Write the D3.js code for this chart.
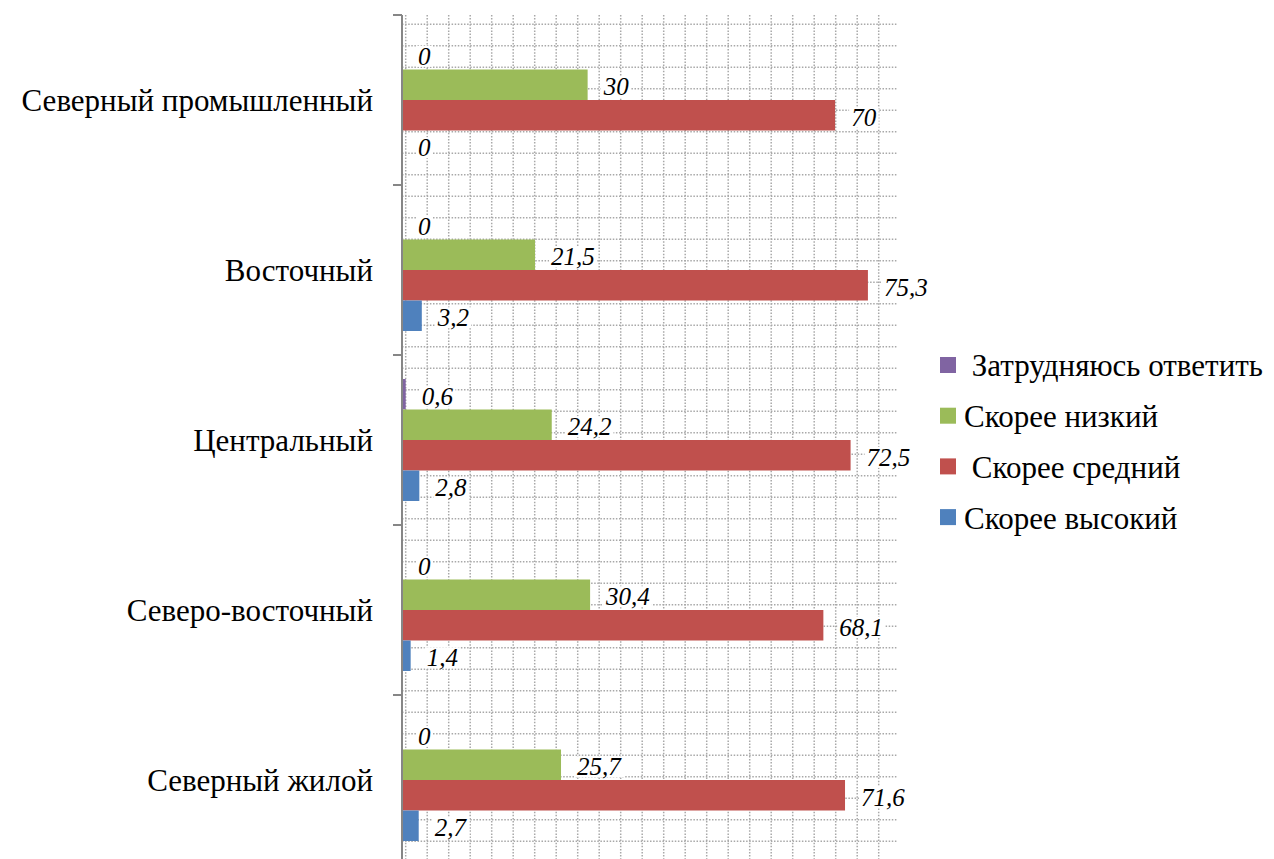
<!DOCTYPE html>
<html>
<head>
<meta charset="utf-8">
<script src="https://cdn.jsdelivr.net/npm/d3@7"></script>
<style>
  html, body { margin: 0; padding: 0; background: #fff; }
</style>
</head>
<body>
<div id="chart"></div>
<script>
(function () {

    var categories = ["Северный промышленный", "Восточный", "Центральный", "Северо-восточный", "Северный жилой"];

    var difficult = [0, 0, 0.6, 0, 0];
    var low       = [30, 21.5, 24.2, 30.4, 25.7];
    var medium    = [70, 75.3, 72.5, 68.1, 71.6];
    var high      = [0, 3.2, 2.8, 1.4, 2.7];

    var SERIES = [
        { key: "difficult", values: difficult, color: "#8064A2", label: " Затрудняюсь ответить" },
        { key: "low",       values: low,       color: "#9BBB59", label: "Скорее низкий" },
        { key: "medium",    values: medium,    color: "#C0504D", label: " Скорее средний" },
        { key: "high",      values: high,      color: "#4F81BD", label: "Скорее высокий" }
    ];

    var FONT = "'Liberation Serif', 'Times New Roman', serif";

    var W = 1274, H = 859;
    var plot = { left: 402, right: 897, top: 15, bottom: 865 };

    var svg = d3.select("#chart").append("svg")
        .attr("width", W).attr("height", H)
        .attr("font-family", FONT);

    /* scales */
    var x = d3.scaleLinear().domain([0, 80]).range([plot.left, plot.right]);
    var y0 = d3.scaleBand().domain(categories).range([plot.top, plot.bottom]);
    var y1 = d3.scaleBand().domain(SERIES.map(function (s) { return s.key; }))
        .range([24, y0.bandwidth() - 24]);

    /* dotted grid (pattern-like background) */
    var grid = svg.append("g").attr("class", "grid")
        .attr("stroke", "#a8a8a8")
        .attr("stroke-width", 1.5)
        .attr("stroke-dasharray", "1.5,1.6");

    grid.selectAll("line.v")
        .data(d3.range(405.7, plot.right, 21.5))
        .enter().append("line")
        .attr("class", "v")
        .attr("x1", function (d) { return d; }).attr("x2", function (d) { return d; })
        .attr("y1", plot.top).attr("y2", plot.bottom);

    grid.selectAll("line.h")
        .data(d3.range(24.3, plot.bottom, 21.5))
        .enter().append("line")
        .attr("class", "h")
        .attr("x1", plot.left).attr("x2", plot.right)
        .attr("y1", function (d) { return d; }).attr("y2", function (d) { return d; });

    /* bars */
    var fmt = function (v) { return String(v).replace(".", ","); };

    var groups = svg.selectAll("g.cat")
        .data(categories)
        .enter().append("g")
        .attr("class", "cat")
        .attr("transform", function (c) { return "translate(0," + y0(c) + ")"; });

    groups.each(function (c, i) {
        var g = d3.select(this);
        SERIES.forEach(function (s) {
            var v = s.values[i];
            g.append("rect")
                .attr("x", x(0))
                .attr("y", y1(s.key))
                .attr("width", Math.max(0, x(v) - x(0)))
                .attr("height", y1.bandwidth())
                .attr("fill", s.color);
        });
    });

    /* y axis */
    var axis = svg.append("g").attr("class", "axis")
        .attr("stroke", "#868686").attr("stroke-width", 2);
    axis.append("line")
        .attr("x1", plot.left).attr("x2", plot.left)
        .attr("y1", plot.top).attr("y2", plot.bottom);
    axis.selectAll("line.tick")
        .data(categories.map(function (c) { return y0(c); }).concat([plot.bottom]))
        .enter().append("line")
        .attr("class", "tick")
        .attr("x1", plot.left - 9).attr("x2", plot.left)
        .attr("y1", function (d) { return d; }).attr("y2", function (d) { return d; });

    /* value labels with white background */
    groups.each(function (c, i) {
        var g = d3.select(this);
        SERIES.forEach(function (s) {
            var v = s.values[i];
            var lg = g.append("g");
            var t = lg.append("text")
                .attr("x", x(v) + 16)
                .attr("y", y1(s.key) + y1.bandwidth() / 2 + 10.5)
                .attr("font-size", 25)
                .attr("font-style", "italic")
                .attr("fill", "#000")
                .text(fmt(v));
            var bb = t.node().getBBox();
            lg.insert("rect", "text")
                .attr("x", bb.x - 2).attr("y", bb.y + 3)
                .attr("width", bb.width + 4).attr("height", bb.height - 6)
                .attr("fill", "#fff");
        });
    });

    /* category labels */
    svg.append("g").selectAll("text")
        .data(categories)
        .enter().append("text")
        .attr("x", 373)
        .attr("y", function (c) { return y0(c) + y0.bandwidth() / 2; })
        .attr("dy", "0.37em")
        .attr("text-anchor", "end")
        .attr("font-size", 31)
        .attr("fill", "#000")
        .text(function (c) { return c; });

    /* legend */
    var legend = svg.append("g").attr("transform", "translate(940,365)");
    SERIES.forEach(function (s, i) {
        var g = legend.append("g").attr("transform", "translate(0," + (i * 50.7) + ")");
        g.append("rect")
            .attr("x", 0).attr("y", -8)
            .attr("width", 16).attr("height", 16)
            .attr("fill", s.color);
        g.append("text")
            .attr("x", 24).attr("y", 0)
            .attr("dy", "0.37em")
            .attr("font-size", 31)
            .attr("xml:space", "preserve")
            .style("white-space", "pre")
            .attr("fill", "#000")
            .text(s.label);
    });

}());
</script>
</body>
</html>
